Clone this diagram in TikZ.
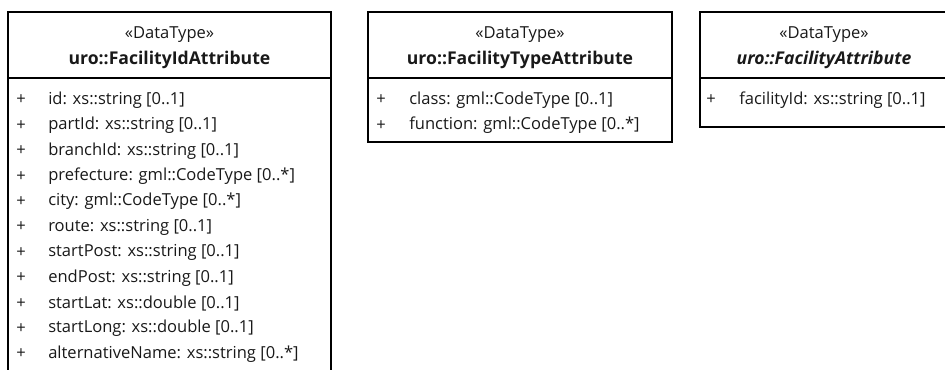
\documentclass[tikz,border=0pt]{standalone}
\usepackage{fontspec}
\setmainfont{Open Sans}
\def\idbox{(8, 12) rectangle (331, 380)}
\def\typebox{(368, 12) rectangle (672, 142)}
\def\facbox{(700, 12) rectangle (948, 127)}
\colorlet{class edge}{black}
\colorlet{class text}{black!90}
\tikzset{
  classbox/.style={draw=class edge, line width=1.9pt},
  divider/.style={draw=class edge, line width=1.9pt},
  stereo/.style={text=class text, font=\fontsize{12.4}{14}\selectfont, inner sep=0pt},
  classname/.style={stereo, font=\fontsize{13.2}{15}\selectfont\bfseries},
  attr/.style={stereo, anchor=west}
}

\begin{document}
\begin{tikzpicture}[x=0.75pt, y=-0.75pt]
    \useasboundingbox (0, 0) rectangle (945, 369);
    \clip (0, 0) rectangle (945, 369);
    % class boxes
    \draw[classbox] \idbox;
    \draw[classbox] \typebox;
    \draw[classbox] \facbox;
    \draw[divider] (8, 78) -- (331, 78);
    \draw[divider] (368, 78) -- (672, 78);
    \draw[divider] (700, 78) -- (948, 78);
    % headers
    \node[stereo] (id-st) at (169.5, 35) {«DataType»};
    \node[classname] (id-nm) at (169.5, 60) {uro::FacilityIdAttribute};
    \node[stereo] (type-st) at (520, 35) {«DataType»};
    \node[classname] (type-nm) at (520, 60) {uro::FacilityTypeAttribute};
    \node[stereo] (fac-st) at (824, 35) {«DataType»};
    \node[classname] (fac-nm) at (824, 60) {\itshape uro::FacilityAttribute};
    % attributes
    \foreach \txt [count=\i] in {{id: xs::string [0..1]}, {partId: xs::string [0..1]},
        {branchId: xs::string [0..1]}, {prefecture: gml::CodeType [0..*]},
        {city: gml::CodeType [0..*]}, {route: xs::string [0..1]},
        {startPost: xs::string [0..1]}, {endPost: xs::string [0..1]},
        {startLat: xs::double [0..1]}, {startLong: xs::double [0..1]},
        {alternativeName: xs::string [0..*]}} {
      \node[attr] (id-vis-\i) at (16, 100 + 25.4*\i - 25.4) {+};
      \node[attr] (id-at-\i) at (48, 100 + 25.4*\i - 25.4) {\txt};
    }
    \foreach \txt [count=\i] in {{class: gml::CodeType [0..1]}, {function: gml::CodeType [0..*]}} {
      \node[attr] (type-vis-\i) at (376, 100 + 25.4*\i - 25.4) {+};
      \node[attr] (type-at-\i) at (409, 100 + 25.4*\i - 25.4) {\txt};
    }
    \node[attr] (fac-vis-1) at (706, 100) {+};
    \node[attr] (fac-at-1) at (739, 100) {facilityId: xs::string [0..1]};
  \end{tikzpicture}
\end{document}
